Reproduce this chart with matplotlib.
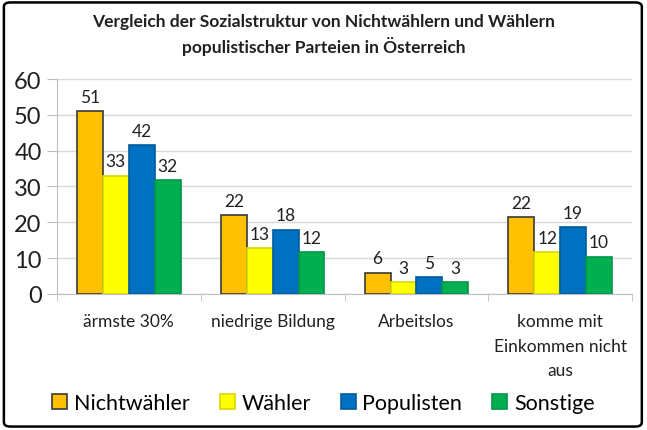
import matplotlib.pyplot as plt
import numpy as np
from matplotlib.patches import FancyBboxPatch

plt.rcParams['font.family'] = ['Lato', 'DejaVu Sans']

categories = ['ärmste 30%', 'niedrige Bildung', 'Arbeitslos', 'komme mit\nEinkommen nicht\naus']
series = ['Nichtwähler', 'Wähler', 'Populisten', 'Sonstige']
nichtwaehler = [51.0, 22.0, 5.9, 21.4]
waehler = [33.0, 12.8, 3.2, 11.7]
populisten = [41.6, 17.9, 4.6, 18.6]
sonstige = [31.8, 11.6, 3.2, 10.4]
labels = [
    ['51', '22', '6', '22'],
    ['33', '13', '3', '12'],
    ['42', '18', '5', '19'],
    ['32', '12', '3', '10'],
]
colors = ['#FFC000', '#FFFF00', '#0070C0', '#00B050']
edges = ['#3a3a3a', '#d8d800', '#005c9e', '#00944a']

fig = plt.figure(figsize=(6.47, 4.31), dpi=100)
ax = fig.add_axes([0.088, 0.316, 0.889, 0.498])

x = np.arange(len(categories))
w = 0.18
data = [nichtwaehler, waehler, populisten, sonstige]
for i, vals in enumerate(data):
    pos = x + (i - 1.5) * w
    ax.bar(pos, vals, w, color=colors[i], edgecolor=edges[i], linewidth=1.2,
           label=series[i], zorder=3)
    for p, v, t in zip(pos, vals, labels[i]):
        ax.text(p, v + 1.8, t, ha='center', va='bottom', fontsize=12.5, color='#202020')

ax.set_xlim(-0.5, len(categories) - 0.5)
ax.set_ylim(0, 60)
ax.set_yticks(range(0, 61, 10))
ax.tick_params(axis='y', labelsize=17, length=7, color='#bfbfbf', pad=4, labelcolor='#202020')
ax.set_xticks(x)
ax.set_xticklabels(categories, fontsize=12.5, color='#202020', linespacing=1.65, va='top')
ax.tick_params(axis='x', length=0, pad=14)
ax.set_xticks(np.arange(-0.5, len(categories)), minor=True)
ax.tick_params(axis='x', which='minor', length=5, color='#bfbfbf')
ax.grid(axis='y', color='#d9d9d9', linewidth=1, zorder=0)
for s in ['top', 'right']:
    ax.spines[s].set_visible(False)
ax.spines['left'].set_color('#bfbfbf')
ax.spines['bottom'].set_color('#bfbfbf')

fig.text(0.5, 0.918, 'Vergleich der Sozialstruktur von Nichtwählern und Wählern\npopulistischer Parteien in Österreich',
         ha='center', va='center', fontsize=12.5, fontweight='bold', linespacing=1.45, color='#202020')

fig.legend(loc='center', bbox_to_anchor=(0.5, 0.063), ncol=4, frameon=False, fontsize=15.5,
           handlelength=0.7, handleheight=0.7, handletextpad=0.3, columnspacing=1.4)

border = FancyBboxPatch((0.006, 0.008), 0.986, 0.984, boxstyle='round,pad=0,rounding_size=0.01',
                        transform=fig.transFigure, fill=False, edgecolor='#000000', linewidth=1.8)
fig.patches.append(border)

fig.savefig('out.png', dpi=100)
